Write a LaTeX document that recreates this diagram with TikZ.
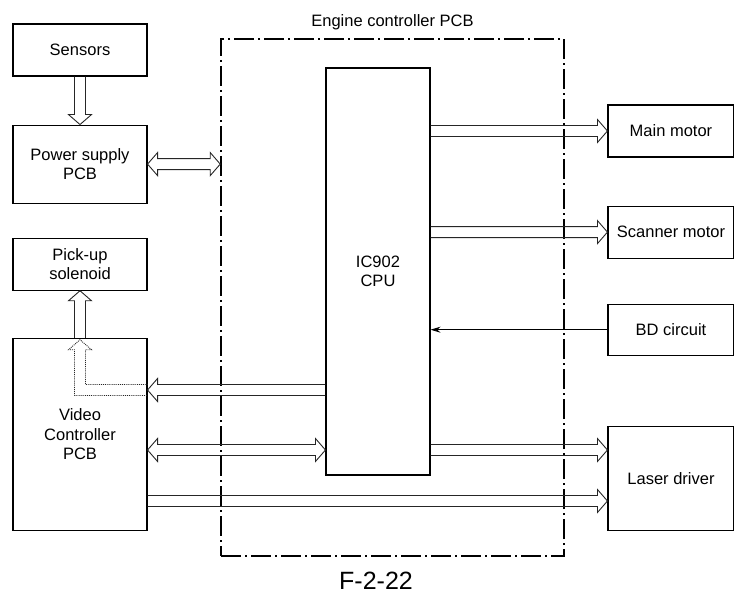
\documentclass[tikz,border=0pt]{standalone}
\usepackage{fontspec}
\setmainfont{Liberation Sans}
\usepackage{tikz}
\usetikzlibrary{arrows.meta, positioning, calc}

% hollow bus arrow from #1 to #2
\newcommand{\hollowarrow}[2]{%
  \path (#1) coordinate (ha-a) (#2) coordinate (ha-b)
        ($(ha-b)!10pt!(ha-a)$) coordinate (ha-bb);
  \draw[bus] ($(ha-a)!5.5pt!90:(ha-b)$) -- ($(ha-bb)!5.5pt!90:(ha-b)$) -- ($(ha-bb)!11.5pt!90:(ha-b)$)
    -- (ha-b) -- ($(ha-bb)!11.5pt!-90:(ha-b)$) -- ($(ha-bb)!5.5pt!-90:(ha-b)$) -- ($(ha-a)!5.5pt!-90:(ha-b)$);
}
% hollow bus arrow with two heads
\newcommand{\hollowboth}[2]{%
  \path (#1) coordinate (hb-a) (#2) coordinate (hb-b)
        ($(hb-a)!10pt!(hb-b)$) coordinate (hb-ab) ($(hb-b)!10pt!(hb-a)$) coordinate (hb-bb);
  \draw[bus] (hb-a) -- ($(hb-ab)!11.5pt!90:(hb-b)$) -- ($(hb-ab)!5.5pt!90:(hb-b)$)
    -- ($(hb-bb)!5.5pt!-90:(hb-a)$) -- ($(hb-bb)!11.5pt!-90:(hb-a)$) -- (hb-b)
    -- ($(hb-bb)!11.5pt!90:(hb-a)$) -- ($(hb-bb)!5.5pt!90:(hb-a)$)
    -- ($(hb-ab)!5.5pt!-90:(hb-b)$) -- ($(hb-ab)!11.5pt!-90:(hb-b)$) -- cycle;
}

\begin{document}
\begin{tikzpicture}[
    x=1pt, y=-1pt,
    font=\fontsize{16.5}{19.5}\selectfont,
    block/.style={rectangle, draw=black, line width=1.1pt, minimum width=134pt, align=center, inner sep=2pt},
    unit/.style={block, minimum width=126pt},
    board/.style={rectangle, draw=black, line width=1.5pt, dash pattern=on 20pt off 4pt on 2pt off 4pt, minimum width=343pt, minimum height=517pt, inner sep=0pt},
    bus/.style={draw=black!85, line width=0.9pt, line join=miter},
    sig/.style={-{Stealth[length=10pt, width=6pt]}, draw=black, line width=0.9pt},
    dots/.style={bus, densely dotted},
    caption/.style={inner sep=0pt}
]
\useasboundingbox (0,0) rectangle (734,596);

% left column
\node[block, minimum height=52pt] (sensors) at (80,50) {Sensors};
\node[block, minimum height=78pt, below=48pt of sensors] (psu) {Power supply\\PCB};
\node[block, minimum height=52pt, below=34pt of psu] (pickup) {Pick-up\\solenoid};
\node[block, minimum height=192pt, below=47pt of pickup] (vc) {Video\\Controller\\PCB};

% engine controller
\node[board] (ecu) at (392.5,297.5) {};
\node[caption, above=8.5pt of ecu] (ecutitle) {Engine controller PCB};
\node[block, minimum width=104pt, minimum height=407pt] (cpu) at (378,271.5) {IC902\\CPU};

% right column
\node[unit, minimum height=52pt] (mm) at (671,131) {Main motor};
\node[unit, minimum height=52pt, below=48pt of mm] (sm) {Scanner motor};
\node[unit, minimum height=51pt, below=45pt of sm] (bd) {BD circuit};
\node[unit, minimum height=104pt, below=70pt of bd] (ld) {Laser driver};

\node[caption, font=\fontsize{25}{30}\selectfont] (fig) at (376,581) {F-2-22};

% helper points
\coordinate (vcin) at (vc.east |- 0,390);
\coordinate (vcbus) at (vc.east |- 0,450);
\coordinate (ldup) at (ld.west |- 0,450);
\coordinate (ldlow) at (ld.west |- 0,501);

% connectors
\hollowarrow{sensors.south}{psu.north}
\hollowboth{psu.east}{psu.east -| ecu.west}
\hollowarrow{vc.north}{pickup.south}
\hollowarrow{cpu.east |- mm.west}{mm.west}
\hollowarrow{cpu.east |- sm.west}{sm.west}
\draw[sig] (bd.west) -- (bd.west -| cpu.east);
\hollowarrow{cpu.west |- vcin}{vcin}
\hollowboth{vcbus}{cpu.west |- vcbus}
\hollowarrow{cpu.east |- ldup}{ldup}
\hollowarrow{vc.east |- ldlow}{ldlow}

% dotted path to the pick-up solenoid
\draw[dots] ($(vcin)+(0,-5.5)$) -| ($(vc.north)+(5.5,12)$) -- ++(6,0) -- ($(vc.north)+(0,2)$)
  -- ++(-11.5,10) -- ++(6,0) |- ($(vcin)+(0,5.5)$);

\end{tikzpicture}
\end{document}
